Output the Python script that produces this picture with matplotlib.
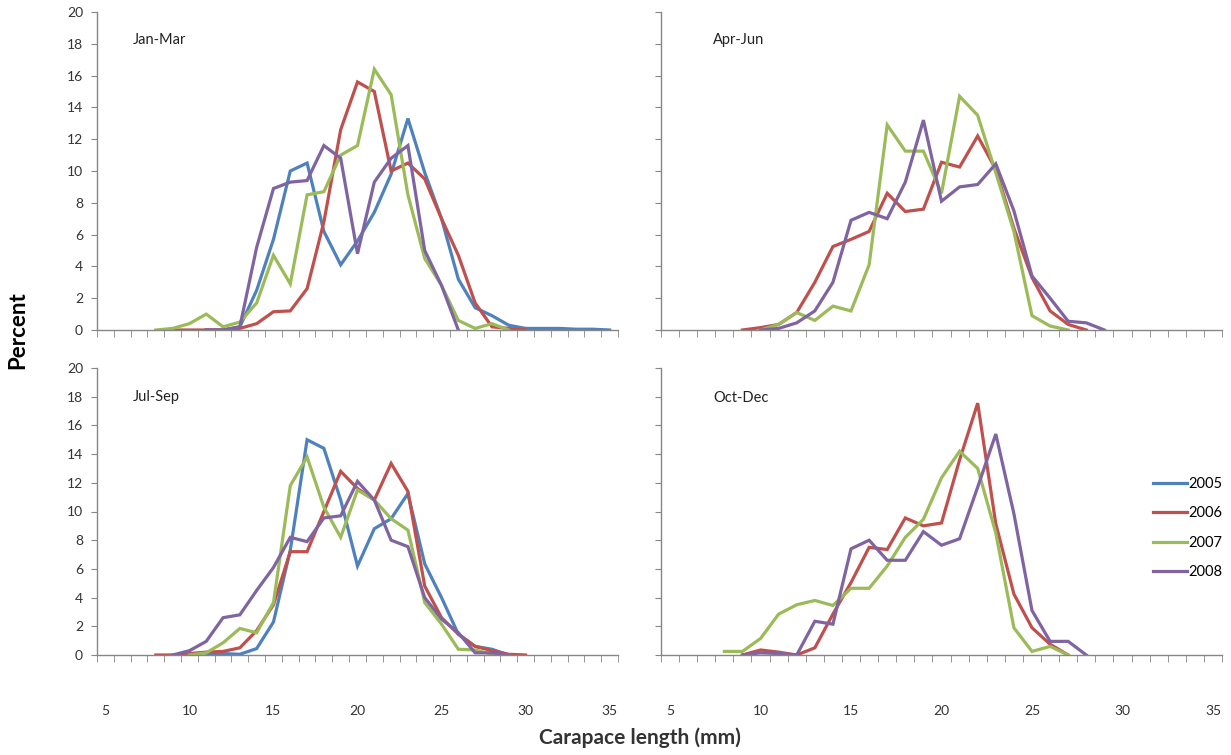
import numpy as np
import matplotlib
matplotlib.use("Agg")
import matplotlib.pyplot as plt

plt.rcParams['font.family'] = ['Lato', 'DejaVu Sans']
plt.rcParams['font.size'] = 10

# =========================================================
# data: percent by carapace length (mm), each series = (first length, values)
# =========================================================
years = ["2005", "2006", "2007", "2008"]
colors = ["#4F81BD", "#C0504D", "#9BBB59", "#8064A2"]

jan_mar = {
    "2005": (11, [0, 0, 0.2, 2.5, 5.7, 10.0, 10.5, 6.2, 4.1, 5.6, 7.4, 9.8, 13.3, 9.9,
                  7.0, 3.2, 1.4, 0.9, 0.3, 0.1, 0.1, 0.1, 0.05, 0.05, 0]),
    "2006": (9, [0, 0, 0, 0, 0.1, 0.4, 1.15, 1.2, 2.6, 6.8, 12.6, 15.6, 15.0, 10.0,
                 10.5, 9.5, 7.0, 4.7, 1.7, 0.2, 0.1, 0]),
    "2007": (8, [0, 0.1, 0.4, 1.0, 0.2, 0.5, 1.7, 4.7, 2.9, 8.5, 8.7, 11.0, 11.6, 16.4,
                 14.8, 8.5, 4.5, 2.8, 0.6, 0.1, 0.4, 0]),
    "2008": (11, [0, 0, 0.2, 5.2, 8.9, 9.3, 9.4, 11.6, 10.8, 4.8, 9.3, 10.8, 11.6, 5.0,
                  2.8, 0]),
}
apr_jun = {
    "2006": (9, [0, 0.15, 0.35, 1.1, 3.0, 5.25, 5.7, 6.2, 8.6, 7.45, 7.6, 10.55, 10.25,
                 12.2, 10.1, 6.4, 3.3, 1.2, 0.35, 0]),
    "2007": (10, [0, 0.35, 1.1, 0.6, 1.5, 1.2, 4.1, 12.9, 11.25, 11.25, 8.6, 14.7, 13.5,
                  9.9, 6.2, 0.9, 0.25, 0]),
    "2008": (10, [0, 0.1, 0.45, 1.2, 3.0, 6.9, 7.4, 7.0, 9.3, 13.2, 8.1, 9.0, 9.15, 10.45,
                  7.5, 3.4, 2.0, 0.55, 0.45, 0]),
}
jul_sep = {
    "2005": (11, [0, 0.1, 0.05, 0.45, 2.3, 7.3, 15.0, 14.4, 10.8, 6.2, 8.8, 9.5, 11.25,
                  6.35, 4.0, 1.45, 0.6, 0.4, 0]),
    "2006": (8, [0, 0, 0.1, 0.2, 0.25, 0.5, 1.7, 3.5, 7.2, 7.2, 10.0, 12.8, 11.6, 10.8,
                 13.35, 11.4, 4.8, 2.6, 1.45, 0.6, 0.3, 0.05, 0]),
    "2007": (10, [0, 0.15, 0.85, 1.85, 1.55, 3.65, 11.8, 13.8, 10.3, 8.2, 11.5, 10.8, 9.5,
                  8.7, 3.65, 2.15, 0.4, 0.35, 0.05, 0]),
    "2008": (9, [0, 0.3, 0.95, 2.6, 2.8, 4.5, 6.1, 8.2, 7.9, 9.55, 9.7, 12.1, 10.8, 8.0,
                 7.55, 4.0, 2.5, 1.55, 0.15, 0.15, 0]),
}
oct_dec = {
    "2006": (9, [0, 0.35, 0.2, 0, 0.5, 2.85, 5.05, 7.5, 7.35, 9.55, 9.0, 9.2, 13.6, 17.55,
                 9.15, 4.25, 1.9, 0.75, 0]),
    "2007": (8, [0.25, 0.25, 1.15, 2.85, 3.5, 3.8, 3.45, 4.65, 4.65, 6.2, 8.2, 9.45, 12.35,
                 14.2, 13.0, 8.5, 1.9, 0.25, 0.6, 0]),
    "2008": (9, [0, 0.15, 0.1, 0, 2.35, 2.15, 7.4, 8.0, 6.6, 6.6, 8.6, 7.65, 8.1, 11.7,
                 15.4, 9.85, 3.1, 0.95, 0.95, 0]),
}

x_labels = [5, 10, 15, 20, 25, 30, 35]
y_ticks = [0, 2, 4, 6, 8, 10, 12, 14, 16, 18, 20]

W, H = 1231, 755
axis_col = "#868686"


def px_box(x0, y_top, x1, y_bot):
    return [x0 / W, 1 - y_bot / H, (x1 - x0) / W, (y_bot - y_top) / H]


def draw_panel(ax, data, title, show_y, show_x, tx):
    for yr, col in zip(years, colors):
        if yr not in data:
            continue
        start, vals = data[yr]
        xs = np.arange(start, start + len(vals))
        ax.plot(xs, vals, color=col, lw=2.3, solid_joinstyle="miter")

    ax.set_xlim(4.5, 35.5)
    ax.set_ylim(0, 20)
    for s in ["top", "right"]:
        ax.spines[s].set_visible(False)
    for s in ["left", "bottom"]:
        ax.spines[s].set_color(axis_col)
        ax.spines[s].set_linewidth(1.0)

    ax.set_yticks(y_ticks)
    ax.tick_params(axis="y", direction="out", length=4, color=axis_col,
                   labelsize=10, labelcolor="#333333", pad=6)
    if not show_y:
        ax.tick_params(axis="y", labelleft=False)

    ax.set_xticks(x_labels)
    ax.set_xticks(np.arange(4.5, 36.0, 1.0), minor=True)
    ax.tick_params(axis="x", which="major", length=0, labelsize=10,
                   labelcolor="#333333", pad=36)
    ax.tick_params(axis="x", which="minor", direction="out", length=5,
                   color=axis_col)
    if not show_x:
        ax.tick_params(axis="x", which="major", labelbottom=False)

    ax.text(tx[0], tx[1], title, transform=ax.transAxes, fontsize=10.5,
            color="#222222", va="center", ha="left")


fig = plt.figure(figsize=(W / 100, H / 100), dpi=100)

ax_tl = fig.add_axes(px_box(97, 12, 618, 330))
ax_tr = fig.add_axes(px_box(661, 12, 1222, 330))
ax_bl = fig.add_axes(px_box(97, 368, 618, 655))
ax_br = fig.add_axes(px_box(661, 368, 1222, 655))

draw_panel(ax_tl, jan_mar, "Jan-Mar", True, False, (0.069, 0.912))
draw_panel(ax_tr, apr_jun, "Apr-Jun", False, False, (0.093, 0.912))
draw_panel(ax_bl, jul_sep, "Jul-Sep", True, True, (0.069, 0.90))
draw_panel(ax_br, oct_dec, "Oct-Dec", False, True, (0.093, 0.895))

handles = [plt.Line2D([], [], color=c, lw=2.3) for c in colors]
fig.legend(handles, years, loc="upper left", bbox_to_anchor=(1153 / W, 1 - 477 / H),
           frameon=False, fontsize=10.5, handlelength=2.3, handletextpad=0.1,
           labelspacing=1.05, borderpad=0, borderaxespad=0)

fig.text(18 / W, 1 - 330 / H, "Percent", rotation=90, fontsize=16,
         fontweight="bold", ha="center", va="center")
fig.text(640 / W, 1 - 738 / H, "Carapace length (mm)", fontsize=15,
         fontweight="bold", ha="center", va="center", color="#333333")

fig.savefig("out.png", dpi=100)
